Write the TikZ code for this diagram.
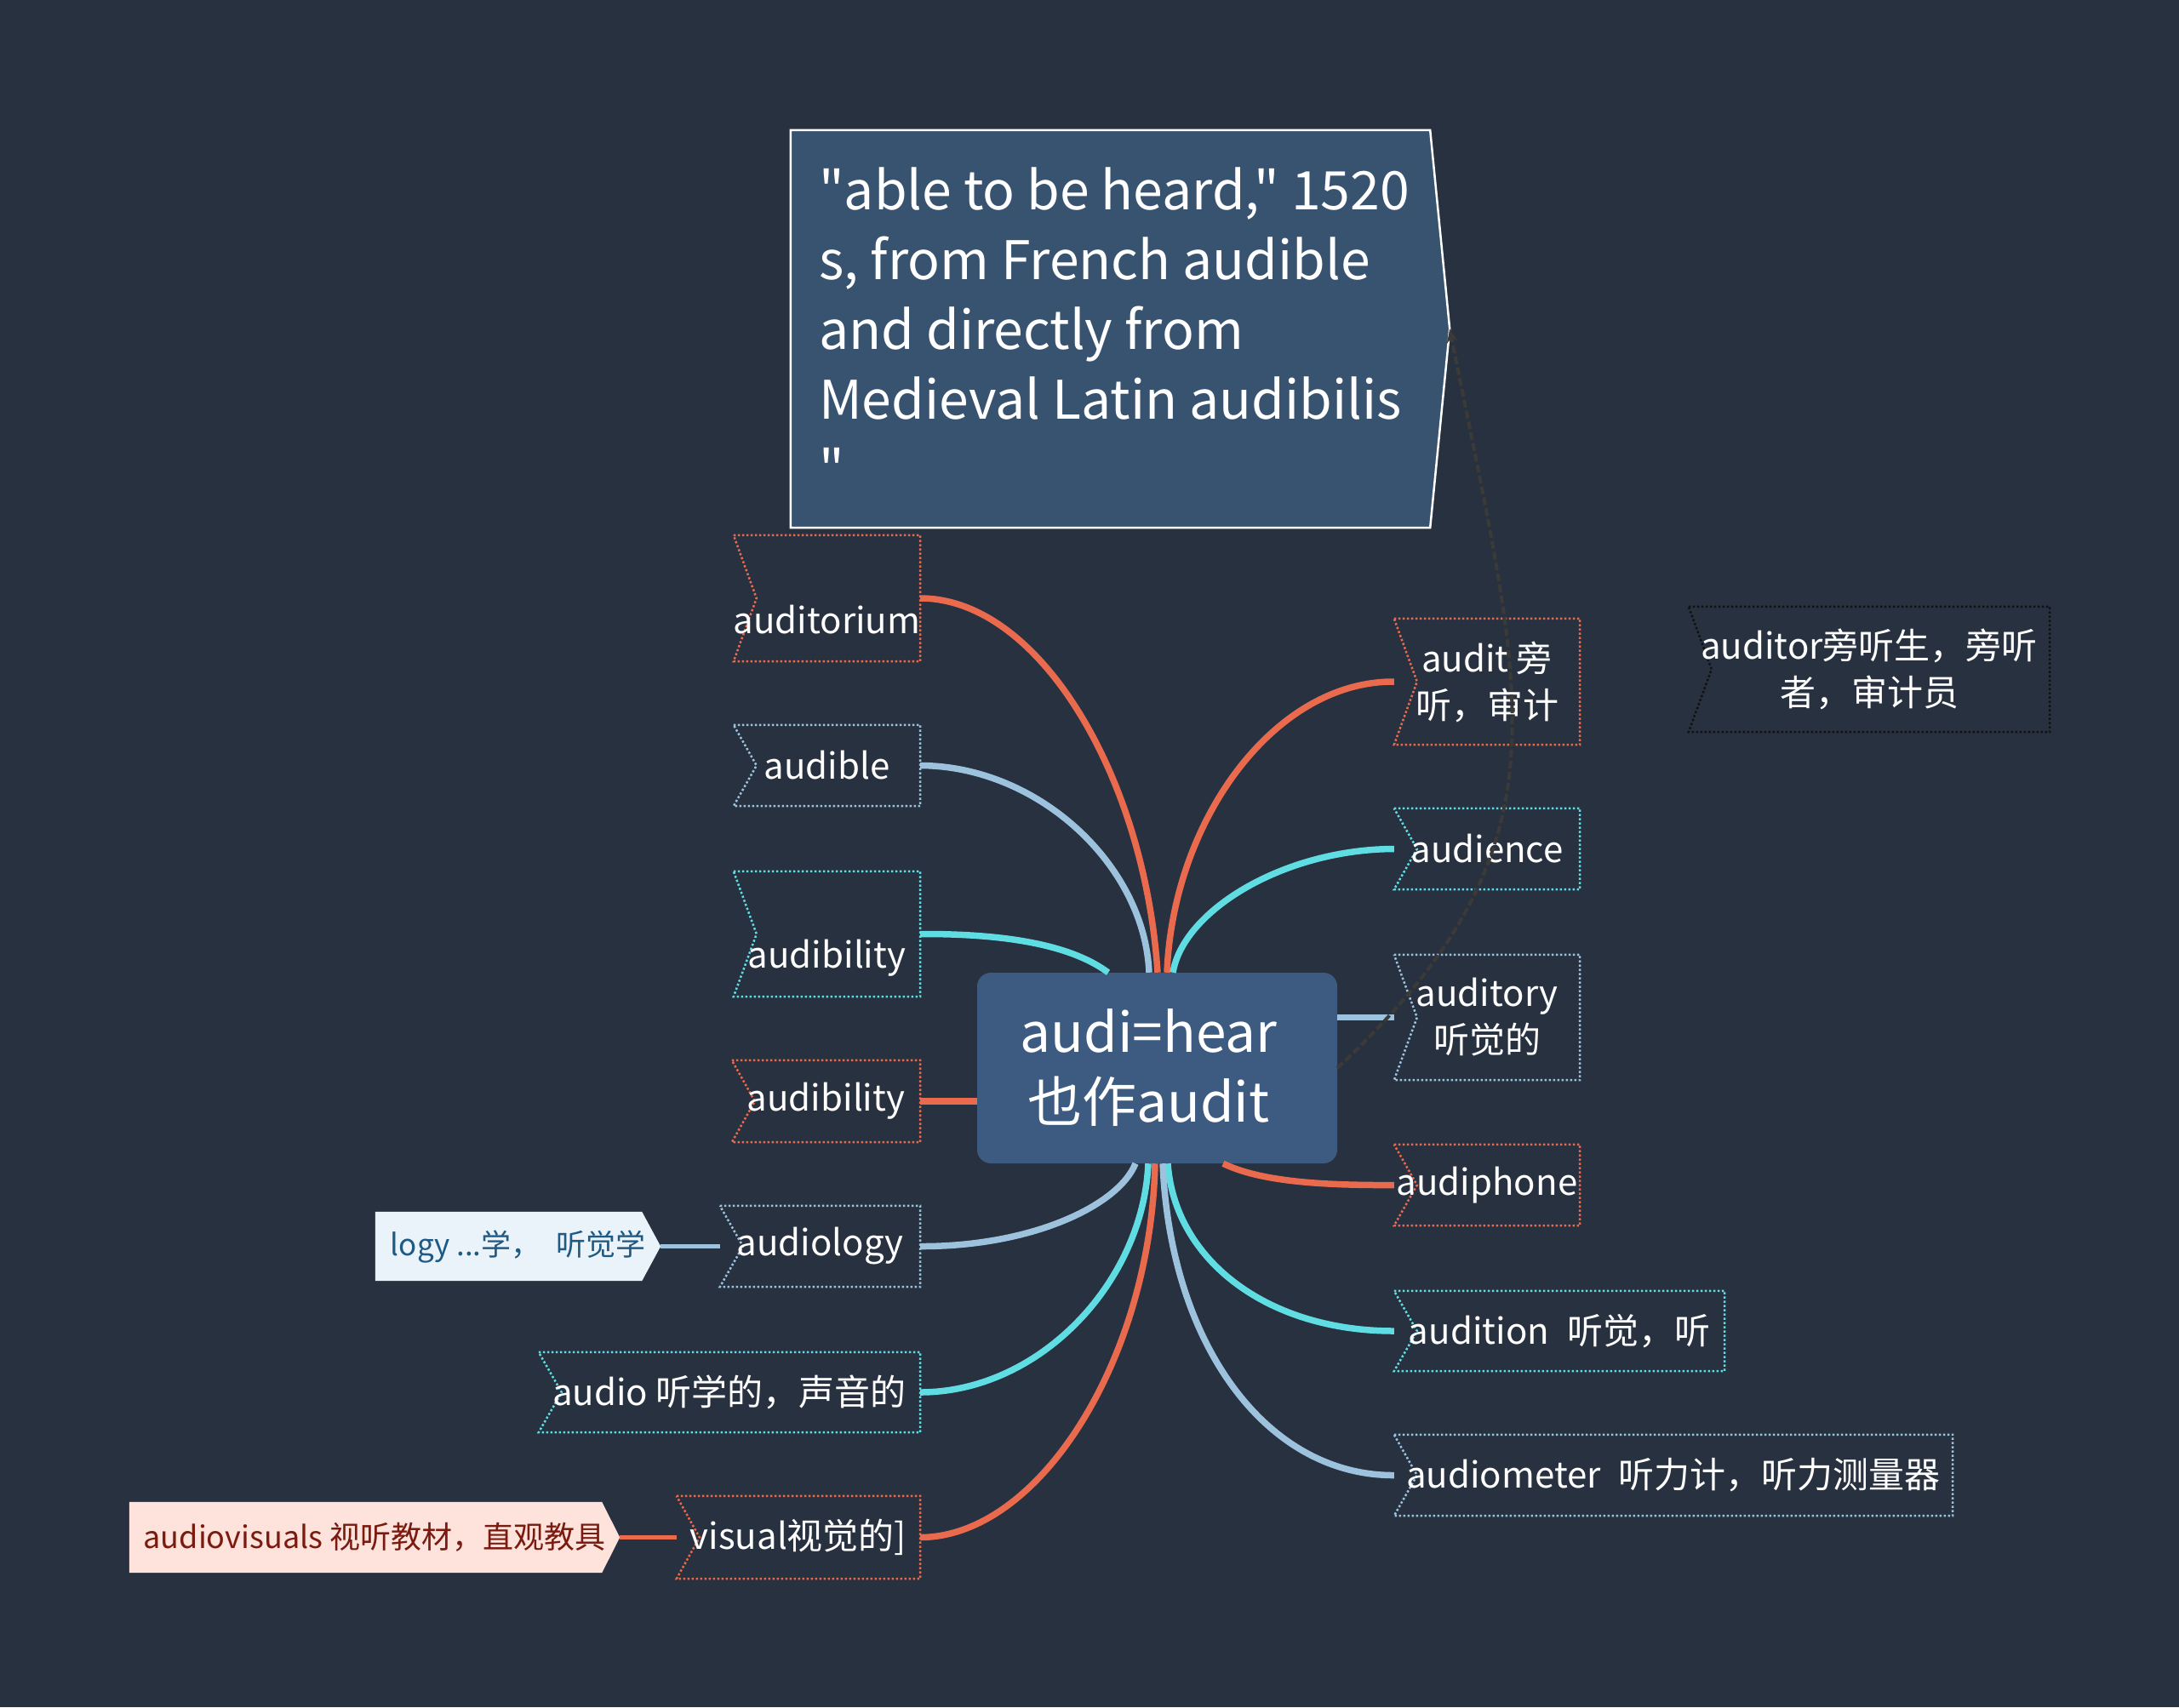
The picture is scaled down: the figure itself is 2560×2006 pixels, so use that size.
\documentclass[tikz,border=0pt]{standalone}
\usepackage{fontspec}
\setmainfont{Noto Sans CJK SC}[Ligatures=TeXOff]
\usetikzlibrary{arrows.meta,calc}
\definecolor{bgc}{HTML}{283140}
\definecolor{callfill}{HTML}{37536F}
\definecolor{cfill}{HTML}{3D5A80}
\definecolor{orng}{HTML}{EA6A4E}
\definecolor{lblue}{HTML}{9CC2DE}
\definecolor{cyantwo}{HTML}{5FDDE3}
\definecolor{logyfill}{HTML}{EAF3F9}
\definecolor{logytext}{HTML}{1F5A84}
\definecolor{avfill}{HTML}{FDE3DC}
\definecolor{avtext}{HTML}{7B1A0F}
\definecolor{darkline}{HTML}{3B3A37}
\definecolor{blackdot}{HTML}{111111}
\pgfdeclarelayer{bg}
\pgfsetlayers{bg,main}
\tikzset{
  boxtext/.style={text=white, font=\fontsize{42}{55}\selectfont, align=center, inner sep=0pt},
  dotline/.style={line width=2.5pt, dash pattern=on 2.5pt off 2.5pt},
  tagbox/.style={rectangle, inner sep=0pt, boxtext,
    append after command={\pgfextra{\draw[dotline, draw=#1]
      (\tikzlastnode.north west) -- (\tikzlastnode.north east) --
      (\tikzlastnode.south east) -- (\tikzlastnode.south west) --
      ([xshift=27pt]\tikzlastnode.west) -- cycle;}}},
  conn/.style={draw=#1, line width=7.5pt},
  subconn/.style={draw=#1, line width=5.5pt},
  darkconn/.style={draw=darkline, line width=4pt, dash pattern=on 9pt off 4pt, -{Stealth[length=16pt,width=13pt]}},
}
\begin{document}
\begin{tikzpicture}[x=1pt,y=-1pt]
\useasboundingbox (0,0) rectangle (2560,2006);
% central topic
\node[rectangle, rounded corners=16pt, fill=cfill, minimum width=423pt, minimum height=224pt,
  text=white, font=\fontsize{64}{82}\selectfont, align=center, inner sep=0pt] (c) at (1359.5,1255)
  {audi=hear\hspace*{20pt}\\也作audit\hspace*{20pt}};
% callout
\node[rectangle, minimum width=751pt, minimum height=467pt, inner sep=0pt] (callout) at (1304.5,386.5) {};
\node[anchor=north west, text=white, font=\fontsize{62.5}{82}\selectfont, align=left, inner sep=0pt] (ct) at (962,197)
  {"able to be heard," 1520\\s, from French audible\\and directly from\\Medieval Latin audibilis\\"};
% left branches
\node[tagbox=orng, minimum width=219pt, minimum height=148pt,
  label={[boxtext, yshift=-25pt, name=t1]center:auditorium}] (b1) at (971.5,703) {};
\node[tagbox=lblue, minimum width=219pt, minimum height=95pt] (b2) at (971.5,899.5) {audible};
\node[tagbox=cyantwo, minimum width=219pt, minimum height=147pt,
  label={[boxtext, yshift=-28pt, name=t3]center:audibility}] (b3) at (971.5,1097.5) {};
\node[tagbox=orng, minimum width=221pt, minimum height=96pt] (b4) at (970.5,1294) {audibility};
\node[tagbox=lblue, minimum width=235pt, minimum height=95pt] (b5) at (963.5,1464.5) {audiology};
\node[tagbox=cyantwo, minimum width=448pt, minimum height=94pt] (b6) at (857,1636) {audio 听学的，声音的};
\node[tagbox=orng, minimum width=286pt, minimum height=97pt] (b7) at (938,1806.5) {visual视觉的]};
% right branches
\node[tagbox=orng, minimum width=218pt, minimum height=148pt] (b8) at (1747,801) {audit 旁\\听，审计};
\node[tagbox=cyantwo, minimum width=218pt, minimum height=95pt] (b9) at (1747,997.5) {audience};
\node[tagbox=lblue, minimum width=218pt, minimum height=147pt] (b10) at (1747,1195.5) {auditory\\听觉的};
\node[tagbox=orng, minimum width=218pt, minimum height=95pt] (b11) at (1747,1392.5) {audiphone};
\node[tagbox=cyantwo, minimum width=388pt, minimum height=94pt] (b12) at (1832,1564) {audition\enspace 听觉，听};
\node[tagbox=lblue, minimum width=656pt, minimum height=95pt] (b13) at (1966,1733.5) {audiometer\enspace 听力计，听力测量器};
% floating topic
\node[tagbox=blackdot, minimum width=424pt, minimum height=147pt] (b14) at (2196,786.5) {auditor旁听生，旁听\\者，审计员};
% sub topics
\node[rectangle, minimum width=335pt, minimum height=81pt, inner sep=0pt, text=logytext,
  font=\fontsize{35}{42}\selectfont] (lg) at (608.5,1464.5) {logy ...学，\enspace 听觉学};
\node[rectangle, minimum width=576pt, minimum height=83pt, inner sep=0pt, text=avtext,
  font=\fontsize{36}{42}\selectfont] (av) at (440,1806.5) {audiovisuals 视听教材，直观教具};
% background shapes
\begin{pgfonlayer}{bg}
  \fill[bgc] (0,0) rectangle (2560,2006);
  \filldraw[fill=callfill, draw=white, line width=2.5pt]
    (callout.north west) -- (callout.north east) -- ([xshift=23pt]callout.east) --
    (callout.south east) -- (callout.south west) -- cycle;
  \fill[logyfill] (lg.north west) -- ([xshift=-22pt]lg.north east) -- (lg.east) --
    ([xshift=-22pt]lg.south east) -- (lg.south west) -- cycle;
  \fill[avfill] (av.north west) -- ([xshift=-21pt]av.north east) -- (av.east) --
    ([xshift=-21pt]av.south east) -- (av.south west) -- cycle;
\end{pgfonlayer}
% connectors
\draw[conn=orng] (b1.east) .. controls (1221,703) and (1345,913) .. ([xshift=0.5pt]c.north);
\draw[conn=lblue] (b2.east) .. controls (1221,900) and (1345,1018) .. ([xshift=-9.5pt]c.north);
\draw[conn=cyantwo] (b3.east) .. controls (1191,1097) and (1262,1113) .. ([xshift=-57.5pt]c.north);
\draw[conn=orng] (b4.east) -- (b4.east -| c.west);
\draw[conn=lblue] (b5.east) .. controls (1211,1465) and (1314,1417) .. ([xshift=-25.5pt]c.south);
\draw[conn=cyantwo] (b6.east) .. controls (1221,1636) and (1343,1507) .. ([xshift=-10.5pt]c.south);
\draw[conn=orng] (b7.east) .. controls (1221,1806) and (1352,1597) .. ([xshift=-2.5pt]c.south);
\draw[conn=orng] ([xshift=11.5pt]c.north) .. controls (1378,963) and (1498,800) .. (b8.west);
\draw[conn=cyantwo] ([xshift=18.5pt]c.north) .. controls (1390,1070) and (1508,998) .. (b9.west);
\draw[conn=lblue] (b10.west -| c.east) -- (b10.west);
\draw[conn=orng] ([xshift=77.5pt]c.south) .. controls (1480,1388) and (1550,1393) .. (b11.west);
\draw[conn=cyantwo] ([xshift=12.5pt]c.south) .. controls (1380,1480) and (1488,1564) .. (b12.west);
\draw[conn=lblue] ([xshift=6.5pt]c.south) .. controls (1375,1580) and (1488,1734) .. (b13.west);
\draw[subconn=lblue] (lg.east) -- (b5.west);
\draw[subconn=orng] (av.east) -- (b7.west);
% relationship line
\draw[darkconn] (c.east) .. controls (1852,992) and (1790,824) .. ([xshift=23pt]callout.east);
\end{tikzpicture}
\end{document}
